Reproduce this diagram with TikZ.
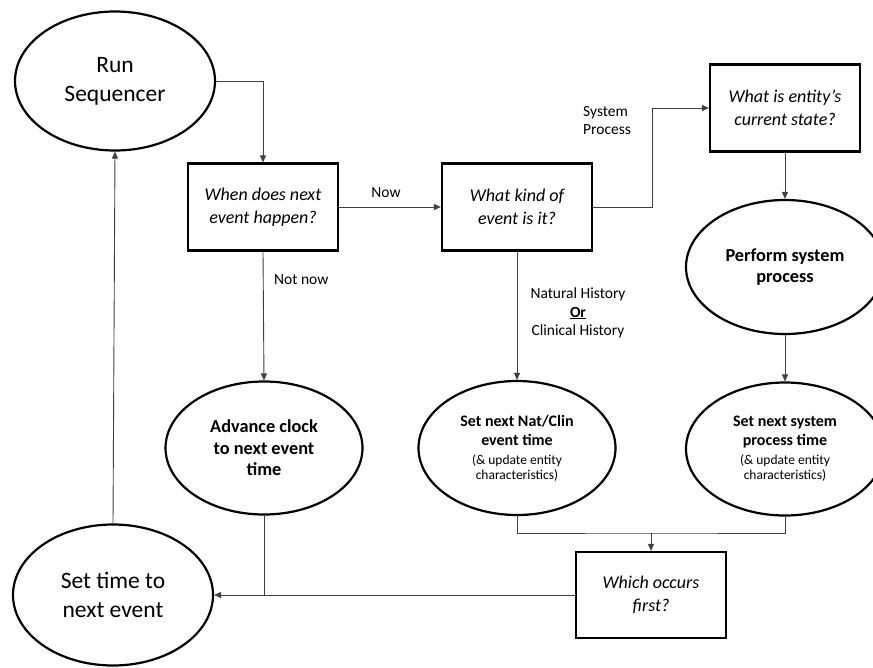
\documentclass[tikz,border=0pt]{standalone}
\usepackage{fontspec}
\setmainfont{Carlito}
\usetikzlibrary{shapes.geometric,arrows.meta}
\begin{document}
\begin{tikzpicture}[x=1pt,y=-1pt,
  oval/.style={ellipse,draw,line width=2.2pt,inner sep=0pt,align=center},
  qbox/.style={rectangle,draw,line width=2.2pt,inner sep=0pt,align=center,
    minimum width=150pt,minimum height=87pt,font=\fontsize{18}{23.5}\selectfont\itshape},
  big/.style={font=\fontsize{23.5}{29}\selectfont},
  bold/.style={font=\fontsize{18.3}{21.5}\selectfont\bfseries},
  small/.style={font=\fontsize{13.5}{15}\selectfont},
  conn/.style={draw=black!75,line width=0.9pt,-{Triangle[length=7pt,width=6pt]}},
  wire/.style={draw=black!75,line width=0.9pt},
  lbl/.style={font=\fontsize{15.5}{18.5}\selectfont,inner sep=0pt}]
\useasboundingbox (0,0) rectangle (873,667);

% nodes
\node[oval,big,minimum width=200pt,minimum height=139pt] (run) at (115,81) {Run\\Sequencer};
\node[qbox] (when) at (263,207) {When does next\\event happen?};
\node[qbox] (kind) at (517,207) {What kind of\\event is it?};
\node[qbox] (state) at (785,108) {What is entity’s\\current state?};
\node[oval,bold,minimum width=198pt,minimum height=134pt] (perform) at (785,267) {Perform system\\process};
\node[oval,bold,minimum width=197pt,minimum height=133pt] (advance) at (264,448) {Advance clock\\to next event\\time};
\node[oval,small,minimum width=197pt,minimum height=134pt] (setnat) at (517,448)
  {\textbf{\fontsize{16}{19}\selectfont Set next Nat/Clin}\\[4pt]\textbf{\fontsize{16}{19}\selectfont event time}\\[4pt](\& update entity\\characteristics)};
\node[oval,small,minimum width=198pt,minimum height=133pt] (setsys) at (785,449)
  {\textbf{\fontsize{16}{19}\selectfont Set next system}\\[4pt]\textbf{\fontsize{16}{19}\selectfont process time}\\[4pt](\& update entity\\characteristics)};
\node[oval,big,minimum width=200pt,minimum height=141pt] (settime) at (113,595) {Set time to\\next event};
\node[qbox,minimum width=150pt,minimum height=86pt] (which) at (651,595) {Which occurs\\first?};

% connector labels
\node[lbl] (lnow) at (386,193) {Now};
\node[lbl,anchor=west] (lnotnow) at (274,280) {Not now};
\node[lbl,align=left,anchor=north west] (lsys) at (583,106) {System\\Process};
\node[lbl,align=center] (lhist) at (578,313) {Natural History\\\underline{\textbf{Or}}\\Clinical History};

% connectors
\draw[conn] (run.east) -| (when.north);
\draw[conn] (when.east) -- (kind.west);
\draw[conn] (kind.east) -- ++(59,0) |- (state.west);
\draw[conn] (state.south) -- (perform.north);
\draw[conn] (perform.south) -- (setsys.north);
\draw[conn] (kind.south) -- (setnat.north);
\draw[conn] (when.south) -- (advance.north);
\coordinate (merge) at (651,533);
\draw[wire] (setnat.south) |- (merge) -| (setsys.south);
\draw[conn] (merge) -- (which.north);
\draw[conn] (which.west) -- (settime.east);
\draw[wire] (advance.south) -- (advance.south |- which.west);
\draw[conn] (settime.north) -- (run.south);
\end{tikzpicture}
\end{document}
